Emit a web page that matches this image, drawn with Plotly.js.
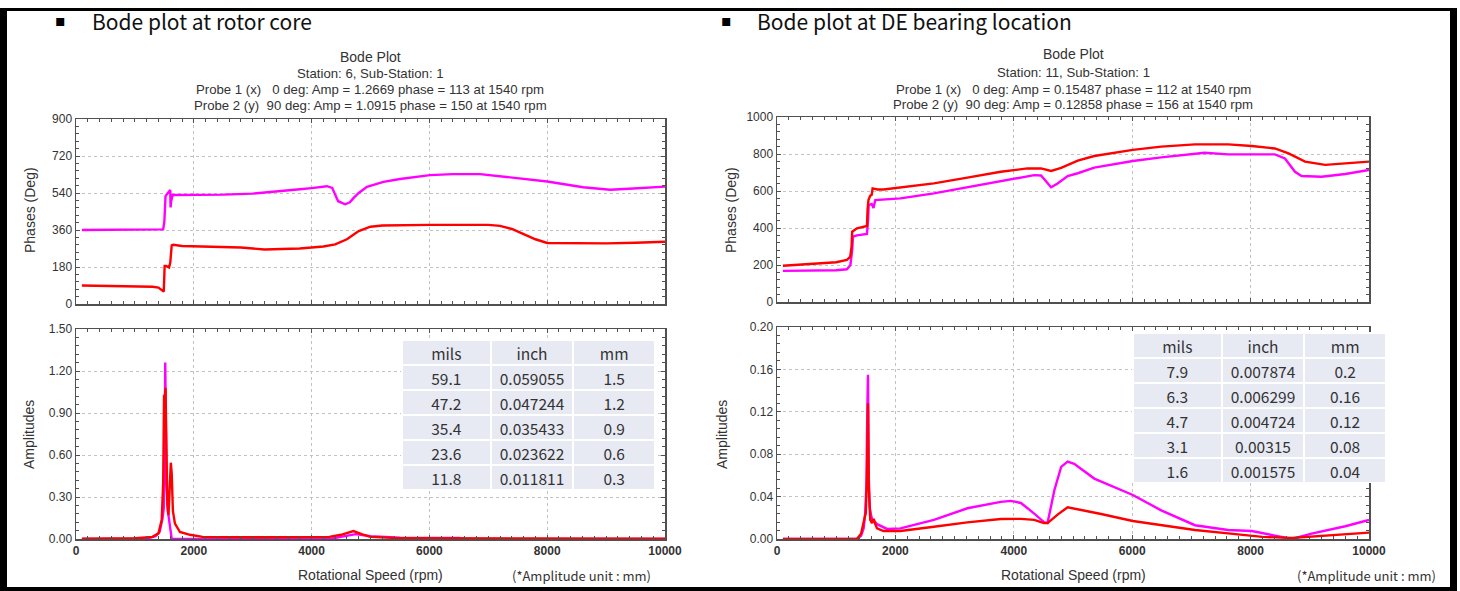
<!DOCTYPE html>
<html>
<head>
<meta charset="utf-8">
<script src="https://cdn.plot.ly/plotly-3.0.1.min.js"></script>
<style>
html,body{margin:0;padding:0;background:#fff;}
#chart{width:1460px;height:591px;}
</style>
</head>
<body>
<div id="chart"></div>
<script>
// ---------------- DATA ----------------
// Left: Bode plot at rotor core (Station 6)
const rotorPhaseP1Rpm = [100, 500, 1000, 1400, 1480, 1500, 1520, 1560, 1600, 1606, 1616, 1640, 1700, 2000, 2500, 3000, 3500, 3800, 4000, 4260, 4350, 4450, 4570, 4650, 4710, 4800, 4940, 5220, 5500, 6010, 6400, 6860, 7310, 8000, 8610, 9070, 9460, 10000];
const rotorPhaseP1 = [360, 360, 360, 361, 363, 400, 525, 540, 555, 470, 500, 530, 530, 530, 532, 537, 548, 558, 564, 573, 565, 500, 485, 495, 515, 540, 570, 594, 608, 627, 632, 632, 618, 596, 568, 556, 562, 571];

const rotorPhaseP2Rpm = [100, 800, 1100, 1300, 1400, 1470, 1490, 1505, 1530, 1580, 1600, 1625, 1650, 1800, 2200, 2800, 3200, 3800, 4200, 4400, 4600, 4800, 5000, 5200, 6000, 7000, 7200, 7400, 7600, 7800, 8000, 9000, 9500, 10000];
const rotorPhaseP2 = [90, 88, 86, 84, 80, 65, 60, 185, 185, 178, 200, 285, 288, 282, 278, 275, 265, 270, 280, 290, 315, 355, 376, 382, 385, 385, 380, 365, 340, 315, 297, 295, 298, 303];

const rotorAmpP1Rpm = [100, 1000, 1250, 1350, 1420, 1470, 1490, 1505, 1515, 1525, 1535, 1560, 1590, 1615, 1625, 4300, 4500, 4750, 5000, 5500, 6500, 6600, 10000];
const rotorAmpP1 = [0, 0, 0.008, 0.02, 0.05, 0.15, 0.22, 0.5, 1.26, 1.0, 0.43, 0.2, 0.11, 0.05, 0, 0, 0.015, 0.035, 0.02, 0.01, 0.008, 0, 0];

const rotorAmpP2Rpm = [100, 1000, 1300, 1400, 1455, 1480, 1495, 1505, 1520, 1530, 1550, 1570, 1585, 1600, 1610, 1625, 1645, 1680, 1765, 1935, 2150, 3000, 4000, 4300, 4500, 4710, 4850, 5000, 5400, 5800, 10000];
const rotorAmpP2 = [0.003, 0.005, 0.015, 0.04, 0.135, 0.4, 1.03, 1.0, 1.08, 0.6, 0.25, 0.17, 0.3, 0.5, 0.545, 0.47, 0.2, 0.11, 0.05, 0.03, 0.015, 0.012, 0.012, 0.015, 0.03, 0.057, 0.035, 0.015, 0.008, 0.005, 0.003];

// Right: Bode plot at DE bearing location (Station 11)
const bearingPhaseP1Rpm = [100, 500, 1000, 1180, 1240, 1270, 1283, 1350, 1520, 1540, 1548, 1600, 1630, 1660, 1800, 2085, 2650, 3215, 3780, 4345, 4460, 4570, 4630, 4740, 4910, 5080, 5360, 6010, 6490, 7225, 7620, 8410, 8580, 8750, 8860, 9200, 9600, 10000];
const bearingPhaseP1 = [168, 170, 172, 177, 200, 280, 353, 360, 368, 450, 524, 530, 508, 551, 553, 560, 587, 620, 654, 686, 684, 641, 620, 641, 681, 696, 726, 762, 782, 807, 798, 798, 776, 704, 681, 677, 692, 714];

const bearingPhaseP2Rpm = [100, 500, 1000, 1180, 1237, 1260, 1270, 1350, 1520, 1530, 1545, 1576, 1600, 1615, 1700, 1800, 2085, 2650, 3215, 3780, 4230, 4460, 4630, 4800, 5080, 5360, 6010, 6490, 7060, 7620, 8020, 8410, 8640, 8920, 9260, 9600, 10000];
const bearingPhaseP2 = [196, 205, 215, 227, 245, 300, 380, 398, 411, 500, 551, 575, 580, 614, 608, 608, 618, 641, 672, 704, 722, 722, 708, 725, 764, 789, 822, 840, 852, 852, 843, 830, 803, 759, 741, 750, 759];

const bearingAmpP1Rpm = [100, 1350, 1420, 1463, 1490, 1510, 1525, 1537, 1550, 1565, 1590, 1605, 1690, 1860, 2085, 2650, 3215, 3780, 3950, 4120, 4345, 4510, 4570, 4685, 4800, 4910, 5020, 5360, 6010, 6490, 7060, 7620, 8020, 8410, 8700, 9030, 9600, 10000];
const bearingAmpP1 = [0, 0, 0.003, 0.01, 0.024, 0.05, 0.12, 0.155, 0.06, 0.03, 0.022, 0.019, 0.014, 0.0095, 0.010, 0.018, 0.029, 0.035, 0.036, 0.034, 0.024, 0.016, 0.015, 0.046, 0.068, 0.073, 0.071, 0.057, 0.0415, 0.027, 0.013, 0.0085, 0.0075, 0.003, 0.0, 0.005, 0.012, 0.018];

const bearingAmpP2Rpm = [100, 1350, 1420, 1463, 1500, 1520, 1530, 1537, 1550, 1565, 1576, 1605, 1633, 1660, 1690, 1800, 2085, 2650, 3215, 3780, 4120, 4345, 4510, 4570, 4740, 4910, 5190, 5475, 6010, 6490, 7060, 7620, 8200, 8700, 9360, 10000];
const bearingAmpP2 = [0, 0, 0.005, 0.015, 0.025, 0.06, 0.1, 0.128, 0.05, 0.025, 0.018, 0.015, 0.019, 0.014, 0.010, 0.0075, 0.0075, 0.0116, 0.0157, 0.0189, 0.019, 0.018, 0.015, 0.015, 0.023, 0.030, 0.027, 0.0236, 0.017, 0.013, 0.0085, 0.0053, 0.002, 0.001, 0.0035, 0.006];

// Conversion tables
const tableHeader = ['mils', 'inch', 'mm'];
const rotorMils = ['59.1', '47.2', '35.4', '23.6', '11.8'];
const rotorInch = ['0.059055', '0.047244', '0.035433', '0.023622', '0.011811'];
const rotorMm = ['1.5', '1.2', '0.9', '0.6', '0.3'];
const bearingMils = ['7.9', '6.3', '4.7', '3.1', '1.6'];
const bearingInch = ['0.007874', '0.006299', '0.004724', '0.00315', '0.001575'];
const bearingMm = ['0.2', '0.16', '0.12', '0.08', '0.04'];

// Texts
const headings = ['Bode plot at rotor core', 'Bode plot at DE bearing location'];
const chartTitles = ['Bode Plot', 'Bode Plot'];
const stationLines = ['Station: 6, Sub-Station: 1', 'Station: 11, Sub-Station: 1'];
const probe1Lines = ['Probe 1 (x)\u00a0\u00a0\u00a00 deg: Amp = 1.2669 phase = 113 at 1540 rpm',
                     'Probe 1 (x)\u00a0\u00a0\u00a00 deg: Amp = 0.15487 phase = 112 at 1540 rpm'];
const probe2Lines = ['Probe 2 (y)\u00a0\u00a090 deg: Amp = 1.0915 phase = 150 at 1540 rpm',
                     'Probe 2 (y)\u00a0\u00a090 deg: Amp = 0.12858 phase = 156 at 1540 rpm'];

// ---------------- LAYOUT HELPERS ----------------
const W = 1460, H = 591;
const fx = p => p / W;
const fy = p => 1 - p / H;
const P1_COLOR = '#ff00ff', P2_COLOR = '#ff0000';
const AX_COLOR = '#505050';
const TXT = '#333333';
const SANS = 'Liberation Sans, Arial, sans-serif';
const KR = 'Noto Sans CJK KR, Noto Sans, sans-serif';

function xAxis(px0, px1, anchor, labels) {
  return {
    domain: [fx(px0), fx(px1)], anchor: anchor, range: [0, 10000],
    tick0: 0, dtick: 2000, tickformat: 'd', showticklabels: labels,
    ticks: 'inside', ticklen: 4, tickwidth: 1, tickcolor: AX_COLOR,
    showline: true, linecolor: AX_COLOR, linewidth: 1.5, mirror: 'allticks',
    showgrid: true, gridcolor: '#c2c2c2', gridwidth: 1, griddash: '3px,3px',
    zeroline: false, fixedrange: true,
    minor: {dtick: 200, ticks: 'inside', ticklen: 3, tickwidth: 1, tickcolor: AX_COLOR, showgrid: false},
    tickfont: {family: SANS, size: 12, color: TXT, weight: 'bold'}
  };
}
function yAxis(py0, py1, anchor, range, dtick, minorDtick, fmt) {
  return {
    domain: [fy(py1), fy(py0)], anchor: anchor, range: range,
    tick0: 0, dtick: dtick, tickformat: fmt,
    ticks: 'inside', ticklen: 4, tickwidth: 1, tickcolor: AX_COLOR,
    showline: true, linecolor: AX_COLOR, linewidth: 1.5, mirror: 'allticks',
    showgrid: true, gridcolor: '#c2c2c2', gridwidth: 1, griddash: '3px,3px',
    zeroline: false, fixedrange: true,
    minor: {dtick: minorDtick, ticks: 'inside', ticklen: 3, tickwidth: 1, tickcolor: AX_COLOR, showgrid: false},
    tickfont: {family: SANS, size: 12, color: TXT}
  };
}
function line(x, y, xa, ya, color) {
  return {type: 'scatter', mode: 'lines', x: x, y: y, xaxis: xa, yaxis: ya,
          line: {color: color, width: 2.4}, hoverinfo: 'skip', showlegend: false};
}
function table(px0, px1, py0, py1, mils, inch, mm) {
  return {
    type: 'table',
    domain: {x: [fx(px0), fx(px1)], y: [fy(py1), fy(py0)]},
    columnwidth: [89, 83, 82],
    header: {values: tableHeader, height: 25, align: 'center',
             fill: {color: '#e8eaf3'}, line: {color: '#ffffff', width: 2},
             font: {family: KR, size: 15.5, color: TXT}},
    cells: {values: [mils, inch, mm], height: 25, align: 'center',
            fill: {color: '#e8eaf3'}, line: {color: '#ffffff', width: 2},
            font: {family: KR, size: 15.5, color: TXT}}
  };
}
function txt(text, x, y, size, opts) {
  return Object.assign({text: text, x: fx(x), y: fy(y), xref: 'paper', yref: 'paper',
    showarrow: false, xanchor: 'center', yanchor: 'middle',
    font: {family: SANS, size: size, color: TXT}}, opts || {});
}

const data = [
  line(rotorPhaseP1Rpm, rotorPhaseP1, 'x', 'y', P1_COLOR),
  line(rotorPhaseP2Rpm, rotorPhaseP2, 'x', 'y', P2_COLOR),
  line(rotorAmpP1Rpm, rotorAmpP1, 'x2', 'y2', P1_COLOR),
  line(rotorAmpP2Rpm, rotorAmpP2, 'x2', 'y2', P2_COLOR),
  line(bearingPhaseP1Rpm, bearingPhaseP1, 'x3', 'y3', P1_COLOR),
  line(bearingPhaseP2Rpm, bearingPhaseP2, 'x3', 'y3', P2_COLOR),
  line(bearingAmpP1Rpm, bearingAmpP1, 'x4', 'y4', P1_COLOR),
  line(bearingAmpP2Rpm, bearingAmpP2, 'x4', 'y4', P2_COLOR),
  table(402, 655, 340, 490, rotorMils, rotorInch, rotorMm),
  table(1133, 1386, 333, 483, bearingMils, bearingInch, bearingMm)
];

const annotations = [];
const panels = [
  {cx: 370, bullet: 60, head: 90, rows: [57, 73, 89, 106], ytL: 30, ampL: 29, unit: 581},
  {cx: 1073, bullet: 726, head: 755, rows: [54, 72, 89, 105], ytL: 731, ampL: 722, unit: 1366}
];
panels.forEach((p, i) => {
  annotations.push(txt('\u25aa', p.bullet, 20, 16, {font: {family: 'DejaVu Sans', size: 16, color: '#000'}}));
  annotations.push(txt(headings[i], p.head, 21, 21, {xanchor: 'left', font: {family: KR, size: 21, color: '#111'}}));
  annotations.push(txt(chartTitles[i], p.cx, p.rows[0], 14));
  annotations.push(txt(stationLines[i], p.cx, p.rows[1], 13.2));
  annotations.push(txt(probe1Lines[i], p.cx, p.rows[2], 13.2));
  annotations.push(txt(probe2Lines[i], p.cx, p.rows[3], 13.2));
  annotations.push(txt('Phases (Deg)', p.ytL, 210, 14, {textangle: -90}));
  annotations.push(txt('Amplitudes', p.ampL, 435, 14, {textangle: -90}));
  annotations.push(txt('Rotational Speed (rpm)', p.cx, 575, 14));
  annotations.push(txt('(*Amplitude unit : mm)', p.unit, 575, 13, {font: {family: KR, size: 13, color: TXT}}));
});

const frame = [
  [0, 8, 1457, 11], [0, 8, 7, 591], [1450, 8, 1457, 591], [0, 587, 1457, 591]
].map(r => ({type: 'rect', xref: 'paper', yref: 'paper', layer: 'above',
  x0: fx(r[0]), x1: fx(r[2]), y0: fy(r[3]), y1: fy(r[1]),
  fillcolor: '#000', line: {width: 0}}));

const layout = {
  width: W, height: H, margin: {l: 0, r: 0, t: 0, b: 0},
  paper_bgcolor: '#ffffff', plot_bgcolor: '#ffffff', showlegend: false,
  xaxis: xAxis(76, 665, 'y', false),
  yaxis: yAxis(119, 304, 'x', [0, 900], 180, 36, 'd'),
  xaxis2: xAxis(76, 665, 'y2', true),
  yaxis2: yAxis(329, 539, 'x2', [0, 1.5], 0.3, 0.06, '.2f'),
  xaxis3: xAxis(777, 1369, 'y3', false),
  yaxis3: yAxis(117, 302, 'x3', [0, 1000], 200, 40, 'd'),
  xaxis4: xAxis(777, 1369, 'y4', true),
  yaxis4: yAxis(327, 539, 'x4', [0, 0.2], 0.04, 0.008, '.2f'),
  annotations: annotations,
  shapes: frame
};

Plotly.newPlot('chart', data, layout, {displayModeBar: false, staticPlot: true});
</script>
</body>
</html>
